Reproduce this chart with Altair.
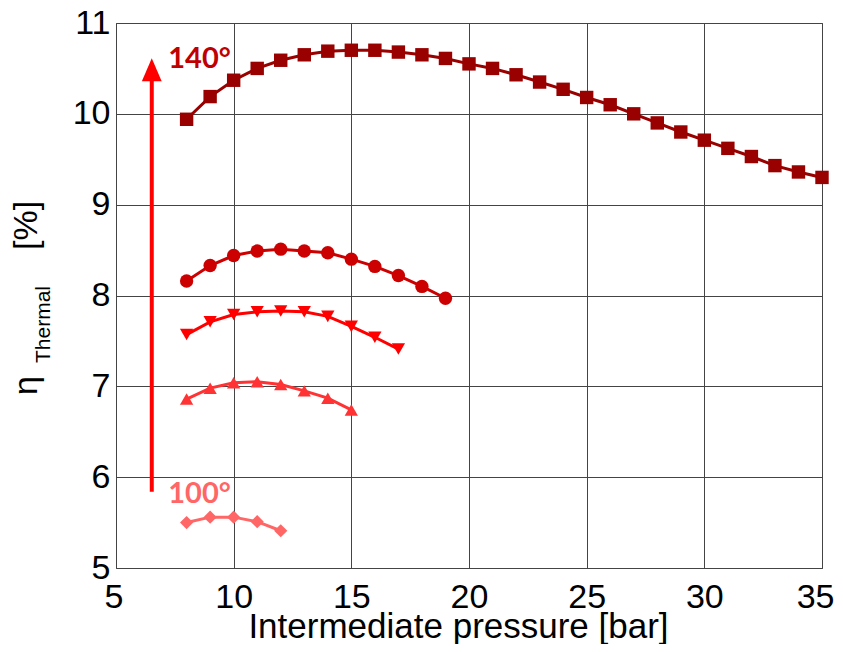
import altair as alt
import pandas as pd

# ---- data ----
pressure_140 = list(range(8, 36))
eta_140 = [9.94, 10.19, 10.37, 10.50, 10.59, 10.65, 10.69, 10.70, 10.70, 10.68,
           10.65, 10.61, 10.55, 10.50, 10.43, 10.35, 10.27, 10.18, 10.10, 10.00,
           9.90, 9.80, 9.71, 9.62, 9.53, 9.43, 9.36, 9.30]
pressure_130 = list(range(8, 20))
eta_130 = [8.16, 8.33, 8.44, 8.49, 8.51, 8.49, 8.47, 8.40, 8.32, 8.22, 8.10, 7.97]
pressure_120 = list(range(8, 18))
eta_120 = [7.57, 7.71, 7.79, 7.82, 7.83, 7.82, 7.77, 7.66, 7.54, 7.41]
pressure_110 = list(range(8, 16))
eta_110 = [6.86, 6.98, 7.04, 7.05, 7.02, 6.95, 6.87, 6.74]
pressure_100 = list(range(8, 13))
eta_100 = [5.50, 5.56, 5.56, 5.51, 5.41]

series_names = ["140°", "130°", "120°", "110°", "100°"]
series_colors = ["#990000", "#cc0000", "#ff0000", "#ff3333", "#ff6666"]
series_shapes = ["square", "circle", "triangle-down", "triangle-up", "diamond"]
series_sizes = [180, 175, 230, 240, 290]

x_ticks = [5, 10, 15, 20, 25, 30, 35]
y_ticks = [5, 6, 7, 8, 9, 10, 11]

label_texts = ["140°", "100°"]
label_x = [7.22, 7.22]
label_y = [10.60, 5.81]
label_colors = ["#c00000", "#ff6666"]

arrow_x = 6.52
arrow_y0 = 5.84
arrow_y1 = 10.45
arrow_head_y = 10.48

# ---- build tables ----
all_x = [pressure_140, pressure_130, pressure_120, pressure_110, pressure_100]
all_y = [eta_140, eta_130, eta_120, eta_110, eta_100]
rows = []
for name, xs, ys in zip(series_names, all_x, all_y):
    for xv, yv in zip(xs, ys):
        rows.append({"series": name, "p": xv, "eta": yv})
df = pd.DataFrame(rows)

x_scale = alt.Scale(domain=[5, 35], nice=False, zero=False)
y_scale = alt.Scale(domain=[5, 11], nice=False, zero=False)
color_scale = alt.Scale(domain=series_names, range=series_colors)
shape_scale = alt.Scale(domain=series_names, range=series_shapes)
size_scale = alt.Scale(domain=series_names, range=series_sizes)

x_axis = alt.Axis(
    values=x_ticks, format="d", title="Intermediate pressure [bar]", grid=True,
    gridColor="#444444", gridOpacity=1, gridWidth=1, domain=False,
    ticks=False, tickSize=0, labelFont="Liberation Sans", labelFontSize=34,
    labelColor="black", labelPadding=39, labelBaseline="alphabetic",
    labelFlush=True, labelFlushOffset=12, labelOverlap=False,
    titleFont="Liberation Sans", titleFontSize=35, titleFontWeight="normal",
    titleColor="black", titleX=342, titleY=69, titleBaseline="alphabetic",
)
y_axis = alt.Axis(
    values=y_ticks, format="d", title=None, grid=True,
    gridColor="#444444", gridOpacity=1, gridWidth=1, domain=False,
    ticks=False, tickSize=0, labelFont="Liberation Sans", labelFontSize=34,
    labelColor="black", labelPadding=6, labelBaseline="middle",
    labelFlush=False, labelOverlap=False,
)

X = alt.X("p:Q", scale=x_scale, axis=x_axis)
Y = alt.Y("eta:Q", scale=y_scale, axis=y_axis)

lines = alt.Chart(df).mark_line(strokeWidth=3).encode(
    x=X, y=Y,
    color=alt.Color("series:N", scale=color_scale, legend=None),
)
points = alt.Chart(df).mark_point(filled=True, opacity=1, strokeWidth=0).encode(
    x=X, y=Y,
    color=alt.Color("series:N", scale=color_scale, legend=None),
    shape=alt.Shape("series:N", scale=shape_scale, legend=None),
    size=alt.Size("series:N", scale=size_scale, legend=None),
)

arrow_df = pd.DataFrame({"p": [arrow_x], "eta": [arrow_y0], "eta2": [arrow_y1], "head": [arrow_head_y]})
arrow = alt.Chart(arrow_df).mark_rule(color="#ff0000", strokeWidth=4).encode(
    x=alt.X("p:Q", scale=x_scale), y=alt.Y("eta:Q", scale=y_scale), y2="eta2:Q"
)
arrow_head = alt.Chart(arrow_df).mark_point(
    shape="M0,-1.1L0.9,1L-0.9,1Z", filled=True, color="#ff0000", size=484, opacity=1, strokeWidth=0
).encode(x=alt.X("p:Q", scale=x_scale), y=alt.Y("head:Q", scale=y_scale))

lab_df = pd.DataFrame({"t": label_texts, "p": label_x, "eta": label_y, "c": label_colors})
labels = alt.Chart(lab_df).mark_text(
    font="Lato", fontSize=29, fontWeight="bold", align="left", baseline="middle"
).encode(
    x=alt.X("p:Q", scale=x_scale), y=alt.Y("eta:Q", scale=y_scale),
    text="t:N", color=alt.Color("c:N", scale=None),
)

# y-axis title with subscript: eta, "Thermal" (subscript), [%]
yt_df = pd.DataFrame({"t": ["η", "Thermal", "[%]"]})
eta_sym = alt.Chart(yt_df[yt_df.t == "η"]).mark_text(
    font="Liberation Sans", fontSize=34, angle=270, align="left", baseline="alphabetic", color="black"
).encode(text="t:N", x=alt.value(-79), y=alt.value(372))
sub = alt.Chart(yt_df[yt_df.t == "Thermal"]).mark_text(
    font="Liberation Sans", fontSize=21, angle=270, align="left", baseline="alphabetic", color="black"
).encode(text="t:N", x=alt.value(-66), y=alt.value(340))
pct = alt.Chart(yt_df[yt_df.t == "[%]"]).mark_text(
    font="Liberation Sans", fontSize=34, angle=270, align="left", baseline="alphabetic", color="black"
).encode(text="t:N", x=alt.value(-79), y=alt.value(227))

chart = alt.layer(lines, points, arrow, arrow_head, labels, eta_sym, sub, pct).properties(
    width=706, height=545,
    autosize=alt.AutoSizeParams(type="none"),
    padding={"left": 108, "top": 15, "right": 13, "bottom": 76},
    background="white",
).configure_view(stroke="#444444", strokeWidth=1)

chart.save("out.html", embed_options={"renderer": "svg", "actions": False})
